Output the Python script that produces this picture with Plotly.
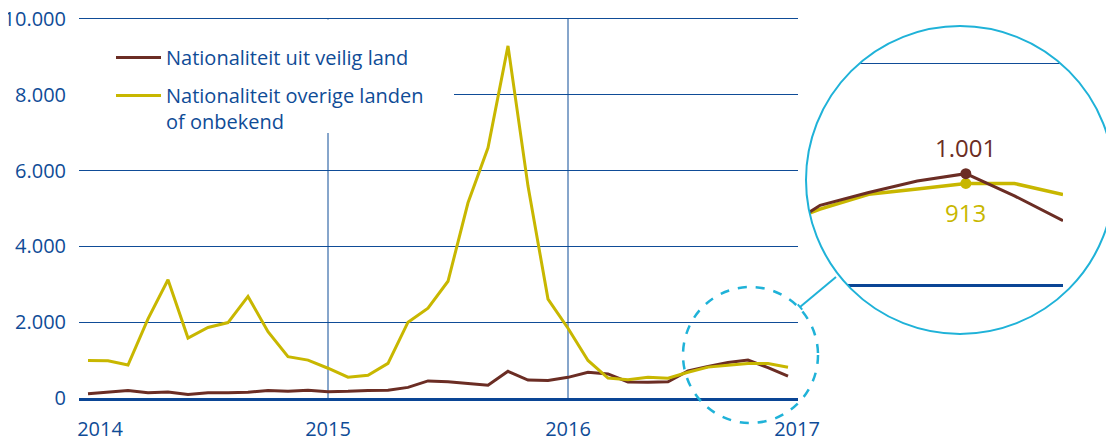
import math
import plotly.graph_objects as go

W, H = 1114, 441
OX, OY = 8, 8  # standaardmarge van de pagina

# maandindex: 0 = jan 2014 ... 35 = dec 2016
maanden = list(range(36))

veilig_land = [115, 160, 200, 140, 160, 90, 140, 140, 150, 200, 180, 205,
               165, 175, 200, 205, 280, 450, 430, 380, 335, 705, 475, 465,
               545, 680, 635, 425, 415, 430, 715, 830, 935, 1001, 800, 575]

overige_landen = [990, 985, 870, 2090, 3120, 1580, 1860, 1990, 2680, 1750, 1090, 1000,
                  785, 550, 600, 915, 2000, 2370, 3080, 5150, 6600, 9290, 5590, 2610,
                  1840, 990, 525, 480, 550, 520, 680, 815, 862, 913, 912, 812]

jaar_labels = ["2014", "2015", "2016", "2017"]
jaar_pos = [0.6, 12, 24, 35.45]
jaar_grens = [12, 24]
y_ticks = [0, 2000, 4000, 6000, 8000, 10000]

uitgelicht = 33  # okt 2016

BLAUW = "#0f4c97"
BRUIN = "#6b2d24"
GEEL = "#c8b700"
CYAAN = "#1fb2d8"
FONT = "Open Sans"

X_RANGE = [-0.45, 35.5]
Y_RANGE = [0, 10105]
PLOT_L, PLOT_R, PLOT_T, PLOT_B = 79, 798, 15, 398


def px(x):
    return (x - OX) / W


def py(y):
    return 1 - (y - OY) / H


def xd(p):
    return X_RANGE[0] + (p - PLOT_L) * (X_RANGE[1] - X_RANGE[0]) / (PLOT_R - PLOT_L)


def yd(p):
    return (PLOT_B - p) * Y_RANGE[1] / (PLOT_B - PLOT_T)


def fmt(v):
    return f"{v:,}".replace(",", ".")


fig = go.Figure()

fig.add_trace(go.Scatter(
    x=maanden, y=veilig_land, mode="lines", name="Nationaliteit uit veilig land",
    line=dict(color=BRUIN, width=3), legendgroup="a"
))
fig.add_trace(go.Scatter(
    x=maanden, y=overige_landen, mode="lines",
    name="Nationaliteit overige landen<br>of onbekend",
    line=dict(color=GEEL, width=3), legendgroup="b"
))

# uitvergroting in de cirkel
fig.add_trace(go.Scatter(
    x=maanden, y=overige_landen, mode="lines", xaxis="x2", yaxis="y2",
    line=dict(color=GEEL, width=3.5), showlegend=False
))
fig.add_trace(go.Scatter(
    x=maanden, y=veilig_land, mode="lines", xaxis="x2", yaxis="y2",
    line=dict(color=BRUIN, width=3), showlegend=False
))
fig.add_trace(go.Scatter(
    x=[maanden[uitgelicht]], y=[overige_landen[uitgelicht]], mode="markers",
    xaxis="x2", yaxis="y2", marker=dict(color=GEEL, size=11), showlegend=False
))
fig.add_trace(go.Scatter(
    x=[maanden[uitgelicht]], y=[veilig_land[uitgelicht]], mode="markers",
    xaxis="x2", yaxis="y2", marker=dict(color=BRUIN, size=11), showlegend=False
))

annotations = [
    dict(x=maanden[uitgelicht], y=veilig_land[uitgelicht], xref="x2", yref="y2",
         text=fmt(veilig_land[uitgelicht]), showarrow=False, yshift=26,
         font=dict(family=FONT, size=24, color=BRUIN)),
    dict(x=maanden[uitgelicht], y=overige_landen[uitgelicht], xref="x2", yref="y2",
         text=fmt(overige_landen[uitgelicht]), showarrow=False, yshift=-29,
         font=dict(family=FONT, size=24, color=GEEL)),
]

# masker rond de grote cirkel (rechthoek min cirkel)
cx, cy, r = 960, 180, 154
pad = "M{},{} L{},{} L{},{} L{},{} Z ".format(
    px(800), py(18), px(1080), py(18), px(1080), py(300), px(800), py(300))
pts = []
for i in range(120):
    a = 2 * math.pi * i / 120
    pts.append((px(cx + r * math.cos(a)), py(cy + r * math.sin(a))))
pad += "M{},{} ".format(*pts[0]) + " ".join("L{},{}".format(*p) for p in pts[1:]) + " Z"

# haakje aan de verbindingslijn
dx, dy = 36, -30
n = math.hypot(dx, dy)
ux, uy = -dy / n, dx / n

shapes = []
for g in jaar_grens:
    shapes.append(dict(type="line", xref="x", yref="y", layer="between",
                       x0=g, x1=g, y0=y_ticks[0], y1=y_ticks[-1],
                       line=dict(color=BLAUW, width=1)))
shapes += [
    # witte achtergrond achter de legenda
    dict(type="rect", xref="x", yref="y", layer="between",
         x0=xd(PLOT_L), x1=xd(454), y0=yd(133), y1=yd(19.6),
         fillcolor="white", line=dict(width=0)),
    dict(type="path", xref="paper", yref="paper", layer="above", path=pad,
         fillcolor="white", fillrule="evenodd", line=dict(width=0)),
    dict(type="circle", xref="paper", yref="paper", layer="above",
         x0=px(cx - r), x1=px(cx + r), y0=py(cy + r), y1=py(cy - r),
         line=dict(color=CYAAN, width=2)),
    dict(type="circle", xref="paper", yref="paper", layer="above",
         x0=px(683), x1=px(818), y0=py(423), y1=py(287),
         line=dict(color=CYAAN, width=2.5, dash="dash")),
    dict(type="line", xref="paper", yref="paper", layer="above",
         x0=px(800), y0=py(307), x1=px(836), y1=py(277),
         line=dict(color=CYAAN, width=2)),
    dict(type="line", xref="paper", yref="paper", layer="above",
         x0=px(800 - 3.5 * ux), y0=py(307 - 3.5 * uy),
         x1=px(800 + 3.5 * ux), y1=py(307 + 3.5 * uy),
         line=dict(color=CYAAN, width=2)),
]

fig.update_layout(
    width=W, height=H,
    margin=dict(l=0, r=0, t=0, b=0, pad=0, autoexpand=False),
    paper_bgcolor="white", plot_bgcolor="white",
    separators=",.",
    font=dict(family=FONT, size=20, color=BLAUW),
    showlegend=True,
    legend=dict(
        x=px(111), y=py(38), xanchor="left", yanchor="top",
        bgcolor="rgba(0,0,0,0)", itemwidth=45, valign="top",
        traceorder="grouped", tracegroupgap=9,
        font=dict(family=FONT, size=20, color=BLAUW),
    ),
    xaxis=dict(
        domain=[px(PLOT_L), px(PLOT_R)], range=X_RANGE, automargin=False,
        tickvals=jaar_pos, ticktext=jaar_labels,
        ticks="outside", ticklen=11, tickcolor="rgba(0,0,0,0)",
        ticklabeloverflow="allow",
        showgrid=False, zeroline=False,
        showline=True, linecolor="#0a4595", linewidth=3,
        tickfont=dict(family=FONT, size=20, color=BLAUW),
    ),
    yaxis=dict(
        domain=[py(PLOT_B), py(PLOT_T)], range=Y_RANGE, automargin=False,
        tickvals=y_ticks, tickformat=",d",
        ticks="outside", ticklen=8, tickcolor="rgba(0,0,0,0)",
        ticklabeloverflow="allow",
        showgrid=True, gridcolor=BLAUW, gridwidth=1, zeroline=False,
        tickfont=dict(family=FONT, size=20, color=BLAUW),
    ),
    xaxis2=dict(
        domain=[px(806), px(1063)], range=[29.71, 35.0], anchor="y2", automargin=False,
        showticklabels=False, ticks="", showgrid=False, zeroline=False,
        showline=True, linecolor="#0a4595", linewidth=3,
    ),
    yaxis2=dict(
        domain=[py(284.3), py(26)], range=[0, 2337], anchor="x2", automargin=False,
        tickvals=[2000], showticklabels=False, ticks="",
        showgrid=True, gridcolor=BLAUW, gridwidth=1, zeroline=False,
    ),
    shapes=shapes,
    annotations=annotations,
)

fig.write_html("out.html")
